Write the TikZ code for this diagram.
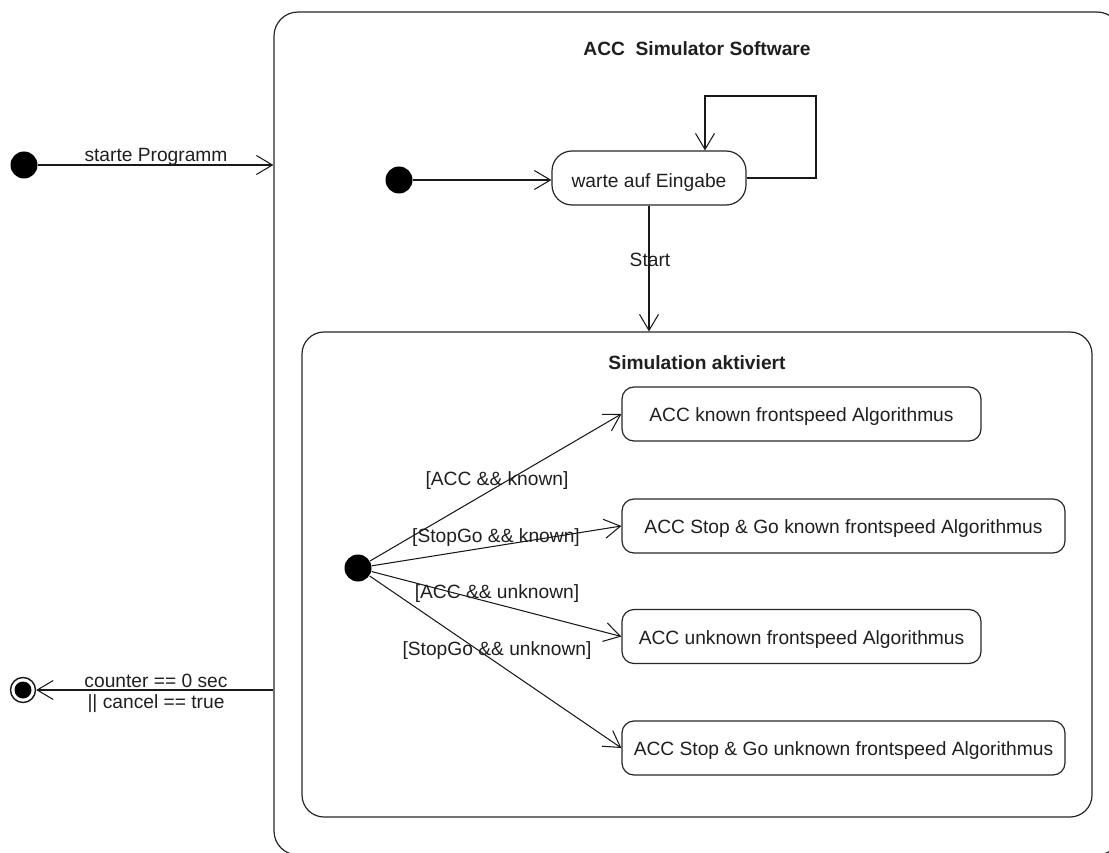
\documentclass[tikz,border=0pt]{standalone}
\usepackage{fontspec}
\setmainfont{Liberation Sans}
\usetikzlibrary{arrows.meta}
\begin{document}
\begin{tikzpicture}[x=1pt, y=-1pt, line width=1.2pt,
  every node/.style={font=\fontsize{19.2}{23}\selectfont, text=black!88},
  tr/.style={draw=black!90, line width=1.05pt, -{Straight Barb[length=16pt, width=19pt]}},
  lbl/.style={anchor=base, inner sep=0pt},
  ttl/.style={anchor=base, inner sep=0pt, font=\fontsize{19.2}{23}\selectfont\bfseries},
  initst/.style={circle, fill=black, draw=none, minimum size=27pt, inner sep=0pt},
  finalst/.style={circle, draw=black!90, fill=white, line width=1.4pt, minimum size=25pt, inner sep=0pt,
    path picture={\fill[black] (path picture bounding box.center) circle (8.5pt);}},
  region/.style={draw=black!85, rounded corners=24pt, inner sep=0pt},
  statebox/.style={draw=black!85, rounded corners=12pt, inner sep=0pt, minimum height=54pt,
    text height=15pt, text depth=0pt},
  waitbox/.style={draw=black!85, rounded corners=20pt, inner sep=0pt, minimum height=54pt, minimum width=194pt,
    text height=19pt, text depth=0pt}]

\path[use as bounding box, clip] (0,0) rectangle (1109,853);

% composite states
\node[region, minimum width=847pt, minimum height=843pt] (outer) at (697.5,433.5) {};
\node[region, rounded corners=22pt, minimum width=790pt, minimum height=485pt] (sim) at (697,574.5) {};
\node[ttl] (outerT) at (697,56) {ACC\ \ Simulator Software};
\node[ttl] (simT) at (697,369) {Simulation aktiviert};

% top level
\node[initst] (i1) at (24,165) {};
\node[finalst] (fin) at (23,690) {};
\draw[tr] (i1) -- (i1 -| outer.west)
  node[lbl] at (156,162) {starte Programm};
\draw[tr] (fin -| outer.west) -- (fin)
  node[lbl] at (156,687) {counter == 0 sec}
  node[lbl] at (156,708) {|| cancel == true};

% inside the simulator software
\node[initst] (i2) at (399,180) {};
\node[waitbox] (warte) at (649,178) {warte auf Eingabe};
\draw[tr] (i2) -- (i2 -| warte.west);
\coordinate (loopA) at (816,96);
\coordinate (loopB) at (705,96);
\draw[tr] (warte.east) -| (loopA) -- (loopB) -- (loopB |- warte.north);
\draw[tr] (warte.south) -- (warte.south |- sim.north)
  node[lbl] at (650,266) {Start};

% inside the active simulation
\node[initst] (i3) at (358,568) {};
\node[statebox, minimum width=359pt] (s1) at (801.5,414) {ACC known frontspeed Algorithmus};
\node[statebox, minimum width=443pt] (s2) at (843.5,526) {ACC Stop \& Go known frontspeed Algorithmus};
\node[statebox, minimum width=359pt] (s3) at (801.5,636.5) {ACC unknown frontspeed Algorithmus};
\node[statebox, minimum width=443pt] (s4) at (843.5,748) {ACC Stop \& Go unknown frontspeed Algorithmus};

\draw[tr] (i3) -- (s1.west) node[lbl] at (497,485) {[ACC \&\& known]};
\draw[tr] (i3) -- (s2.west) node[lbl] at (496,542) {[StopGo \&\& known]};
\draw[tr] (i3) -- (s3.west) node[lbl] at (497,598) {[ACC \&\& unknown]};
\draw[tr] (i3) -- (s4.west) node[lbl] at (497,655) {[StopGo \&\& unknown]};
\end{tikzpicture}
\end{document}
